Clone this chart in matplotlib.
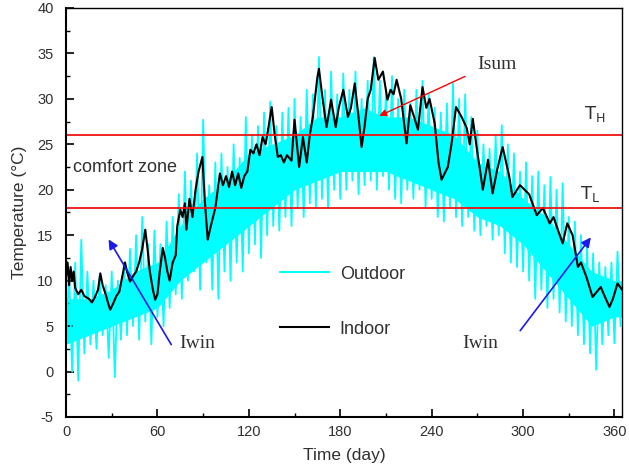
"""Indoor vs outdoor temperature over one year, with comfort zone limits."""

import numpy as np
import matplotlib
matplotlib.use("Agg")
import matplotlib.pyplot as plt

# Outdoor temperature, read every 2 days (alternating swings)
outdoor_days = np.arange(0, 366, 2)
outdoor = [
    3, 11, 0, 12, -1, 14.5, 2, 11, 3, 10,
    2.5, 10.5, 4, 9.5, 1.5, 11, -0.6, 10, 3.5, 12,
    4, 13.5, 5, 15, 3.5, 17, 5.5, 14, 3, 15.5,
    6, 14, 5, 16.5, 7, 17, 8.5, 19.5, 8, 22,
    10, 21, 11, 24, 9, 27.7, 12, 20.5, 9, 23,
    8, 24, 11, 22.5, 10, 25, 12, 23.5, 11, 28,
    13, 26, 14, 27, 12.5, 28.5, 15, 29.7, 16, 27,
    15.5, 28.5, 17, 29, 16, 30, 18, 28, 17, 31,
    18.5, 30.5, 18, 34.6, 19, 31, 18, 33, 20, 30.5,
    19, 32.8, 20, 31, 21, 33, 19.5, 30, 20.5, 32,
    21, 34.6, 20, 32, 21.5, 31, 20, 32.5, 19, 30,
    18.5, 31, 20, 29.5, 19, 31, 20, 32, 18, 30.5,
    19, 29, 17, 28.5, 16.5, 29.5, 18, 31.7, 17, 30,
    16, 30.5, 17, 28, 15.5, 26.5, 15, 25, 16, 24.5,
    14.5, 26, 15, 27.1, 13, 25, 12, 24, 11.5, 22,
    11, 23, 10, 21.5, 8, 22, 9, 20.5, 7, 21.4,
    8, 20, 6.5, 20.7, 5.5, 17, 5, 16.5, 4, 15,
    3, 14, 2, 13, 0.2, 12, 3, 11.5, 4, 12,
    3.1, 13.2, 5,
]

# Dense part of the outdoor band (where the cyan is solid)
core_days = [0, 15, 30, 45, 60, 75, 90, 105, 120, 135, 150, 165, 180, 195,
             210, 225, 240, 255, 270, 285, 300, 315, 330, 345, 360, 365]
core_lo = [3, 4, 5, 6, 7, 10, 12, 14, 16, 18, 20, 21, 22, 22,
           22, 21, 20, 19, 17, 16, 14, 11, 8, 5, 6, 6]
core_hi = [8, 8, 9, 11, 12, 16, 19, 21, 24, 25, 26, 28, 28, 29,
           28, 28, 27, 26, 23, 22, 19, 17, 14, 11, 10, 10]

# Indoor temperature
indoor_days = [
    0, 1, 2, 3, 4, 5, 6, 8, 10, 12, 15, 17, 19, 21, 22.5, 24, 26, 28, 29, 31,
    33, 35, 37, 38.7, 40, 42, 44, 46, 48, 50, 52, 53.5, 55, 57, 58.5, 60, 61.5,
    63.5, 65, 66.5, 68, 70, 72, 73, 75, 76.5, 78, 79, 81, 83, 85, 87, 89.5, 91,
    93, 95, 98, 101, 103, 105, 107, 109, 111, 113, 115, 117, 119, 121, 123, 125,
    127, 129, 131, 133, 135, 137, 139, 141, 143, 145, 148, 150, 153, 155.5, 158,
    160, 162, 165, 166, 168.5, 171, 174, 177, 179, 182, 185, 187, 189.5, 192,
    194, 196, 198, 200, 202.6, 205, 208, 211, 213, 215, 217, 220, 223.5, 226,
    228.5, 231, 234, 236.5, 238.6, 242, 244.5, 246.5, 250.6, 253, 256, 259.7,
    263, 265, 267, 269.5, 273.6, 277, 280, 283, 286.6, 291, 293, 298, 304, 309,
    313, 317.5, 320, 322, 326, 329, 332.5, 336, 338, 341.6, 345.6, 351, 353,
    356.7, 359, 362, 365,
]
indoor = [
    10.5, 12, 9.5, 11.5, 10, 11, 9.2, 8.5, 9, 8.3, 8, 7.6, 8.2, 9, 10.8, 9.5,
    8.5, 7.3, 6.8, 7.5, 8.3, 8.8, 10.5, 12, 11, 9.9, 10.5, 11, 12, 13.5, 15.6,
    13.5, 11, 9, 7.9, 8.5, 11, 13.6, 12.5, 11, 10, 12, 12.8, 16, 17.8, 17, 18.5,
    15.6, 19, 17, 20, 22, 23.6, 19, 14.5, 16, 18, 21.8, 20.5, 21.5, 20.3, 22,
    20.5, 21.8, 20.2, 21.5, 22, 24.4, 24, 25, 23.8, 25.8, 25, 27, 29.1, 26, 23.6,
    23.8, 23, 23.8, 23.2, 27.7, 22.5, 25.8, 23, 26, 28, 32.4, 33.3, 29.9, 26.9,
    29.9, 26.9, 29, 31, 28, 29, 31.7, 28, 24.7, 27, 30, 31, 34.5, 32.1, 33, 29.9,
    31, 30.5, 32.1, 30, 25.1, 29.3, 28, 26.6, 31.3, 29, 30, 27.3, 23, 21.1, 22.5,
    25, 29.1, 28, 26.8, 25, 27.8, 24.7, 20, 23.3, 19.6, 22.2, 24.7, 21.4, 19.2,
    20.5, 19.5, 17.2, 18, 16.3, 17, 16, 14.1, 16.3, 15, 11.5, 12, 10.4, 8.2, 9.3,
    8.5, 7.1, 8, 9.7, 9,
]

T_H = 26
T_L = 18

plt.rcParams["axes.unicode_minus"] = False

fig = plt.figure(figsize=(6.29, 4.68), dpi=100)
ax = fig.add_axes([0.105, 0.109, 0.884, 0.874])

sans = "Liberation Sans"
serif = "Liberation Serif"
txt_color = "#303030"
cyan = "#00ffff"

ax.fill_between(core_days, core_lo, core_hi, color=cyan, lw=0)
ax.plot(outdoor_days, outdoor, color=cyan, lw=1.3, label="Outdoor")
ax.plot(indoor_days, indoor, color="black", lw=1.5, label="Indoor")

ax.axhline(T_H, color="#ee1111", lw=1.3)
ax.axhline(T_L, color="#ee1111", lw=1.3)

ax.text(347, 28.3, r"$\mathrm{T_H}$", fontsize=13, color=txt_color, ha="center", va="center")
ax.text(344, 19.5, r"$\mathrm{T_L}$", fontsize=13, color=txt_color, ha="center", va="center")
ax.text(4.5, 22.4, "comfort zone", family=sans, fontsize=13, color=txt_color, va="center")

# annotation arrows
ax.annotate("", xy=(204, 28), xytext=(263.6, 32.6),
            arrowprops=dict(arrowstyle="-|>", color="red", lw=1.0, mutation_scale=10))
ax.text(283, 33.8, "Isum", family=serif, fontsize=14, color=txt_color, ha="center", va="center")

ax.annotate("", xy=(27, 14.8), xytext=(70, 2.7),
            arrowprops=dict(arrowstyle="-|>", color="#1a1aee", lw=1.2, mutation_scale=14))
ax.text(86, 3.1, "Iwin", family=serif, fontsize=14, color=txt_color, ha="center", va="center")

ax.annotate("", xy=(345.6, 15), xytext=(297, 4.25),
            arrowprops=dict(arrowstyle="-|>", color="#1a1aee", lw=1.2, mutation_scale=14))
ax.text(272, 3.1, "Iwin", family=serif, fontsize=14, color=txt_color, ha="center", va="center")

leg = ax.legend(loc="upper left", bbox_to_anchor=(0.385, 0.37), frameon=False,
                handlelength=2.7, handletextpad=0.6, labelspacing=2.1,
                borderpad=0, borderaxespad=0, prop={"family": sans, "size": 13})
for t in leg.get_texts():
    t.set_color(txt_color)
for h in leg.get_lines():
    h.set_linewidth(1.5)

ax.set_xlim(0, 365)
ax.set_ylim(-5, 40)
ax.set_xticks(np.arange(0, 361, 60))
ax.set_xticks(np.arange(30, 361, 60), minor=True)
ax.set_yticks(np.arange(-5, 41, 5))
ax.set_yticks(np.arange(-2.5, 40, 5), minor=True)
ax.tick_params(which="both", direction="in", top=False, right=False,
               labelsize=10.5, labelcolor=txt_color)
ax.tick_params(axis="y", which="major", pad=9)
ax.tick_params(axis="x", which="major", pad=6)
ax.tick_params(which="major", length=6, width=1.2)
ax.tick_params(which="minor", length=3, width=1.0)
for lbl in ax.get_xticklabels() + ax.get_yticklabels():
    lbl.set_family(sans)

ax.set_xlabel("Time (day)", family=sans, fontsize=12.5, color=txt_color, labelpad=6)
ax.set_ylabel("Temperature (°C)", family=sans, fontsize=12.5, color=txt_color, labelpad=7)

for side in ["left", "bottom"]:
    ax.spines[side].set_linewidth(1.5)
for side in ["top", "right"]:
    ax.spines[side].set_linewidth(1.0)

fig.savefig("out.png", dpi=100)
